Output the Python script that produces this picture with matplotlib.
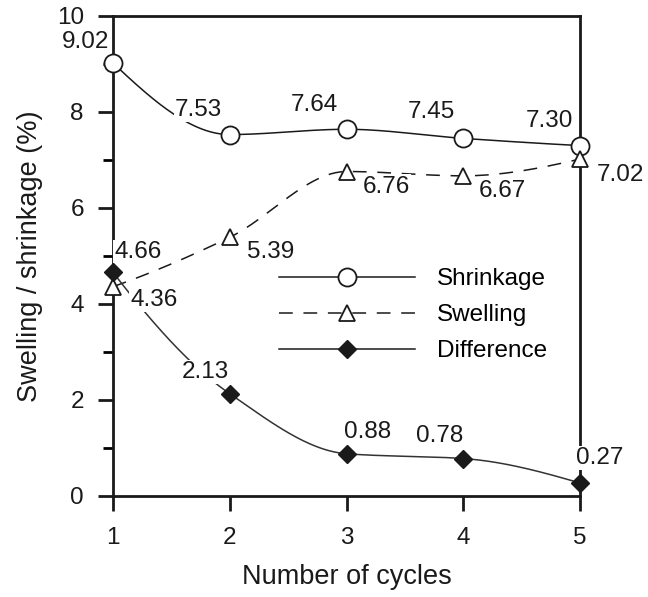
import numpy as np
import matplotlib.pyplot as plt

plt.rcParams['font.family'] = ['Liberation Sans', 'DejaVu Sans']

# data
cycles = [1, 2, 3, 4, 5]
shrinkage = [9.02, 7.53, 7.64, 7.45, 7.30]
swelling = [4.36, 5.39, 6.76, 6.67, 7.02]
difference = [4.66, 2.13, 0.88, 0.78, 0.27]

# label offsets in pixels (dx, dy) for each series
shrink_off = [(-5, 21), (-31, 25), (-32, 24), (-32, 26), (-31, 25)]
swell_off = [(41, -13), (41, -15), (40, -15), (39, -15), (40, -16)]
diff_off = [(25, 20), (-24, 22), (21, 22), (-24, 23), (20, 25)]


def pchip(x, y, n=200):
    # monotone cubic curve through the points, just for drawing
    x = np.asarray(x, float)
    y = np.asarray(y, float)
    h = np.diff(x)
    d = np.diff(y) / h
    m = np.zeros_like(y)
    for k in range(1, len(y) - 1):
        if d[k - 1] * d[k] > 0:
            w1 = 2 * h[k] + h[k - 1]
            w2 = h[k] + 2 * h[k - 1]
            m[k] = (w1 + w2) / (w1 / d[k - 1] + w2 / d[k])

    def end(h0, h1, d0, d1):
        s = ((2 * h0 + h1) * d0 - h0 * d1) / (h0 + h1)
        if np.sign(s) != np.sign(d0):
            s = 0.0
        elif np.sign(d0) != np.sign(d1) and abs(s) > abs(3 * d0):
            s = 3 * d0
        return s

    m[0] = end(h[0], h[1], d[0], d[1])
    m[-1] = end(h[-1], h[-2], d[-1], d[-2])
    xs = np.linspace(x[0], x[-1], n)
    idx = np.clip(np.searchsorted(x, xs) - 1, 0, len(x) - 2)
    t = (xs - x[idx]) / h[idx]
    h00 = 2 * t**3 - 3 * t**2 + 1
    h10 = t**3 - 2 * t**2 + t
    h01 = -2 * t**3 + 3 * t**2
    h11 = t**3 - t**2
    ys = (h00 * y[idx] + h10 * h[idx] * m[idx] + h01 * y[idx + 1]
          + h11 * h[idx] * m[idx + 1])
    return xs, ys


fig = plt.figure(figsize=(6.48, 5.97), dpi=100)
ax = fig.add_axes([0.1744, 0.1692, 0.7207, 0.8040])

col = '#1a1a1a'
fs = 17.5

xs, ys = pchip(cycles, shrinkage)
ax.plot(xs, ys, '-', color=col, lw=1.1, zorder=2)
xs, ys = pchip(cycles, swelling)
ax.plot(xs, ys, color=col, lw=1.1, dashes=(9, 7), zorder=2)
xs, ys = pchip(cycles, difference)
ax.plot(xs, ys, '-', color='#333333', lw=1.1, zorder=2)

ax.plot(cycles, shrinkage, 'o', ms=13, mfc='white', mec=col, mew=1.3,
        clip_on=False, zorder=4)
ax.plot(cycles, swelling, '^', ms=11, mfc='white', mec=col, mew=1.3,
        clip_on=False, zorder=4)
ax.plot(cycles, difference, 'D', ms=9, mfc=col, mec=col,
        clip_on=False, zorder=5)

# legend handles
ax.plot([], [], 'o-', color=col, lw=1.1, ms=13, mfc='white', mew=1.3, label='Shrinkage')
ax.plot([], [], '^', ls=(0, (9, 7)), color=col, lw=1.1, ms=11, mfc='white', mew=1.3,
        label='Swelling')
ax.plot([], [], 'D-', color=col, lw=1.1, ms=9, label='Difference')

def label(xv, yv, off, ha='center'):
    for x, y, (dx, dy) in zip(xv, yv, off):
        ax.annotate('%.2f' % y, (x, y), xytext=(dx * 0.72, dy * 0.72),
                    textcoords='offset points', ha=ha, va='center',
                    fontsize=fs, color=col, zorder=3, annotation_clip=False,
                    bbox=dict(boxstyle='square,pad=0.05', fc='white', ec='none'))

label(cycles[1:], shrinkage[1:], shrink_off[1:])
ax.annotate('9.02', (cycles[0], shrinkage[0]), xytext=(-4 * 0.72, 21 * 0.72),
            textcoords='offset points', ha='right', va='center',
            fontsize=fs, color=col, annotation_clip=False)
label(cycles, swelling, swell_off)
label(cycles, difference, diff_off)

ax.set_xlim(1, 5)
ax.set_ylim(0, 10)
ax.set_xticks(cycles)
ax.set_yticks([0, 2, 4, 6, 8, 10])
ax.set_yticks([1, 3, 5, 7, 9], minor=True)
ax.tick_params(axis='both', which='major', direction='out', length=11, width=2,
               labelsize=fs, colors=col)
ax.tick_params(axis='y', which='major', pad=10)
ax.tick_params(axis='x', which='major', pad=11)
ax.tick_params(axis='y', which='minor', direction='out', length=7.5, width=2)
for s in ax.spines.values():
    s.set_linewidth(2)
    s.set_color(col)

ax.set_xlabel('Number of cycles', fontsize=19.5, color=col, labelpad=11)
ax.set_ylabel('Swelling / shrinkage (%)', fontsize=19.5, color=col, labelpad=10)

leg = ax.legend(loc='upper left', bbox_to_anchor=(0.33, 0.50), frameon=False,
                fontsize=fs, handlelength=5.6, handletextpad=0.9,
                labelspacing=0.58, borderpad=0)

fig.savefig('out.png', dpi=100)
